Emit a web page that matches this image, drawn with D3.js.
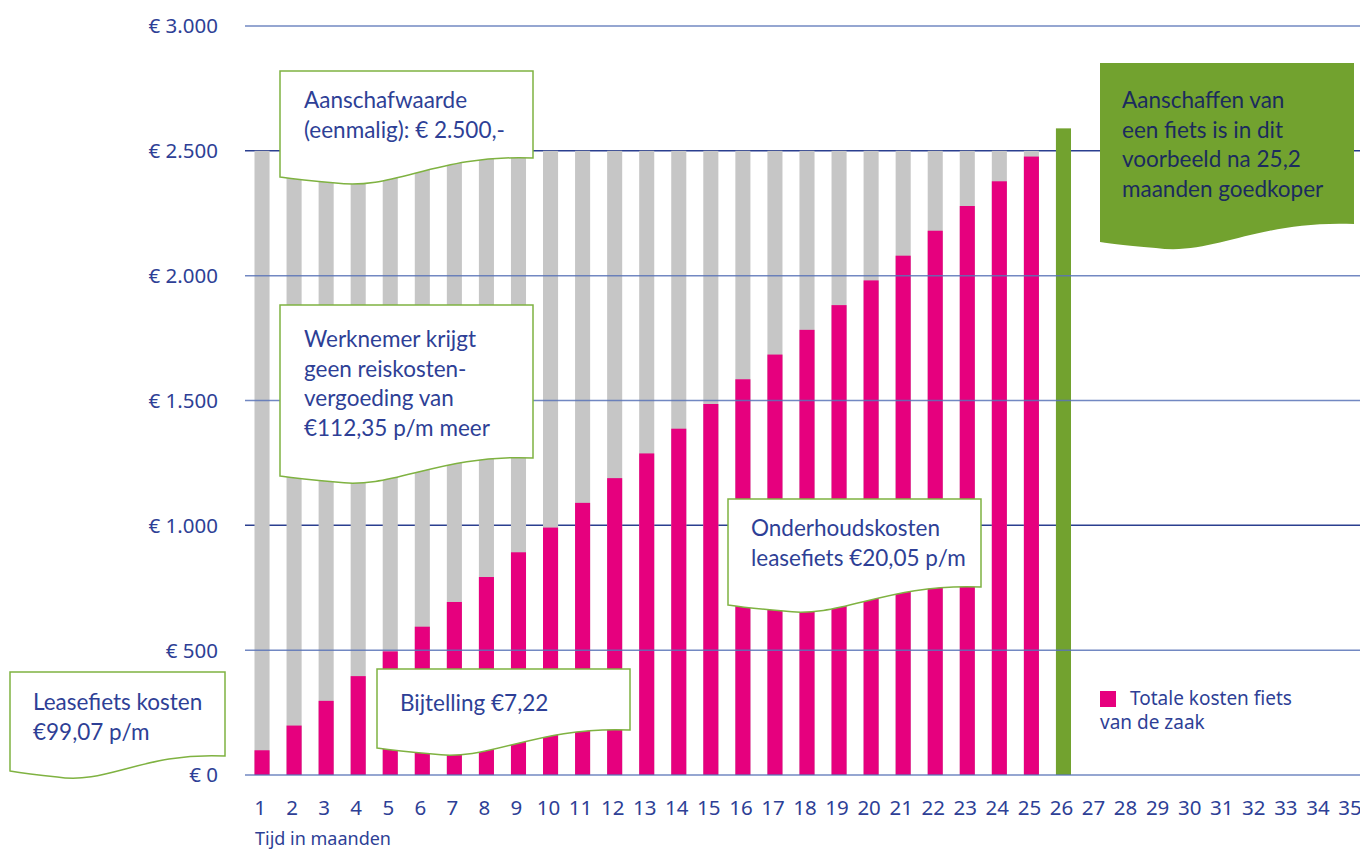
<!DOCTYPE html>
<html>
<head>
<meta charset="utf-8">
<script src="https://cdn.jsdelivr.net/npm/d3@7"></script>
<style>
  body { margin: 0; background: #fff; }
  svg { display: block; }
  .tick-label { font-family: "Noto Sans", sans-serif; fill: #2e3f96; }
  .note { font-family: Lato, "Open Sans", sans-serif; font-size: 22.5px; fill: #2e3f96; }
</style>
</head>
<body>
<svg id="chart" width="1360" height="849"></svg>
<script>
// data
const months = d3.range(1, 36).map(String);
const yTicks = [0, 500, 1000, 1500, 2000, 2500, 3000];
const yTickLabels = ["€ 0", "€ 500", "€ 1.000", "€ 1.500", "€ 2.000", "€ 2.500", "€ 3.000"];
// grijze achtergrondbalk (aanschafwaarde)
const purchaseValues = [2500, 2500, 2500, 2500, 2500, 2500, 2500, 2500, 2500, 2500,
  2500, 2500, 2500, 2500, 2500, 2500, 2500, 2500, 2500, 2500, 2500, 2500, 2500, 2500, 2500];
// totale kosten fiets van de zaak
const leaseValues = [99, 198, 297, 396, 495, 594, 693, 793, 892, 991, 1090, 1189, 1288,
  1387, 1486, 1585, 1684, 1783, 1882, 1981, 2080, 2180, 2279, 2378, 2477];
const breakEvenMonth = "26";
const breakEvenValue = 2590;

const svg = d3.select("#chart");

const x = d3.scaleBand().domain(months).range([246, 1368]).paddingInner(0.53).paddingOuter(0.265);
const y = d3.scaleLinear().domain([0, 3000]).range([775, 26]);

// rasterlijnen (donker) achter de balken
const darkLines = [1000, 2500];
svg.append("g").selectAll("line")
  .data(yTicks.filter(v => darkLines.includes(v)))
  .join("line")
  .attr("x1", 245).attr("x2", 1360)
  .attr("y1", d => y(d)).attr("y2", d => y(d))
  .attr("stroke", "#2b3f8f").attr("stroke-width", 1.5);

// grijze balken
svg.append("g").selectAll("rect")
  .data(purchaseValues)
  .join("rect")
  .attr("x", (d, i) => x(months[i]))
  .attr("width", x.bandwidth())
  .attr("y", d => y(d))
  .attr("height", d => y(0) - y(d))
  .attr("fill", "#c6c6c6");

// roze balken
svg.append("g").selectAll("rect")
  .data(leaseValues)
  .join("rect")
  .attr("x", (d, i) => x(months[i]))
  .attr("width", x.bandwidth())
  .attr("y", d => y(d))
  .attr("height", d => y(0) - y(d))
  .attr("fill", "#e6007e");

// groene balk
svg.append("rect")
  .attr("x", x(breakEvenMonth))
  .attr("width", x.bandwidth())
  .attr("y", y(breakEvenValue))
  .attr("height", y(0) - y(breakEvenValue))
  .attr("fill", "#72a22f");

// lichte rasterlijnen over de balken
svg.append("g").selectAll("line")
  .data(yTicks.filter(v => !darkLines.includes(v)))
  .join("line")
  .attr("x1", 245).attr("x2", 1360)
  .attr("y1", d => y(d)).attr("y2", d => y(d))
  .attr("stroke", "#5a74b8").attr("stroke-width", 1.5).attr("opacity", 0.85);

// y-as labels
svg.append("g").selectAll("text")
  .data(yTicks)
  .join("text")
  .attr("class", "tick-label")
  .attr("x", 218)
  .attr("y", d => y(d))
  .attr("dy", "0.36em")
  .attr("text-anchor", "end")
  .attr("font-size", 20.5)
  .text((d, i) => yTickLabels[i]);

// x-as labels
svg.append("g").selectAll("text")
  .data(months)
  .join("text")
  .attr("class", "tick-label")
  .attr("x", d => x(d) + x.bandwidth() / 2 - 2)
  .attr("y", 815)
  .attr("text-anchor", "middle")
  .attr("font-size", 20.5)
  .text(d => d);

svg.append("text")
  .attr("class", "tick-label")
  .attr("x", 255).attr("y", 845)
  .attr("font-size", 18)
  .text("Tijd in maanden");

// tekstballonnen met golvende onderkant
function wavyBox(b) {
  const w = b.x1 - b.x0;
  const p = d3.path();
  p.moveTo(b.x0, b.top);
  p.lineTo(b.x1, b.top);
  p.lineTo(b.x1, b.yR);
  p.bezierCurveTo(b.x0 + w * 0.62, b.yR - 4, b.x0 + w * 0.45, b.yL + 14, b.x0 + w * 0.22, b.yL + 6);
  p.bezierCurveTo(b.x0 + w * 0.12, b.yL + 4, b.x0 + w * 0.05, b.yL + 2, b.x0, b.yL);
  p.closePath();
  return p.toString();
}

const boxes = [
  { x0: 280, x1: 533, top: 71, yR: 158, yL: 177, tx: 304, ty: 108, lines: ["Aanschafwaarde", "(eenmalig): € 2.500,-"] },
  { x0: 280, x1: 533, top: 305, yR: 458, yL: 476, tx: 304, ty: 347, lines: ["Werknemer krijgt", "geen reiskosten-", "vergoeding van", "€112,35 p/m meer"] },
  { x0: 10, x1: 225, top: 672, yR: 756, yL: 771, tx: 33, ty: 710, lines: ["Leasefiets kosten", "€99,07 p/m"] },
  { x0: 377, x1: 630, top: 669, yR: 730, yL: 748, tx: 400, ty: 711, lines: ["Bijtelling €7,22"] },
  { x0: 728, x1: 981, top: 499, yR: 587, yL: 605, tx: 751, ty: 536, lines: ["Onderhoudskosten", "leasefiets €20,05 p/m"] },
  { x0: 1100, x1: 1354, top: 63, yR: 224, yL: 242, tx: 1122, ty: 108, green: true,
    lines: ["Aanschaffen van", "een fiets is in dit", "voorbeeld na 25,2", "maanden goedkoper"] }
];

const boxG = svg.append("g").selectAll("g")
  .data(boxes)
  .join("g");

boxG.append("path")
  .attr("d", d => wavyBox(d))
  .attr("fill", d => d.green ? "#72a22f" : "#fff")
  .attr("stroke", d => d.green ? "none" : "#7fb241")
  .attr("stroke-width", 1.5);

boxG.each(function (d) {
  const t = d3.select(this).append("text")
    .attr("class", "note")
    .attr("x", d.tx)
    .attr("y", d.ty)
    .style("fill", d.green ? "#1b2b5e" : null);
  d.lines.forEach((line, i) => {
    t.append("tspan")
      .attr("x", d.tx)
      .attr("y", d.ty + i * 29.5)
      .text(line);
  });
});

// legenda
svg.append("rect")
  .attr("x", 1100).attr("y", 691)
  .attr("width", 16).attr("height", 16)
  .attr("fill", "#e6007e");
svg.append("text")
  .attr("class", "tick-label")
  .attr("x", 1130).attr("y", 705)
  .attr("font-size", 19)
  .text("Totale kosten fiets");
svg.append("text")
  .attr("class", "tick-label")
  .attr("x", 1100).attr("y", 729)
  .attr("font-size", 19)
  .text("van de zaak");
</script>
</body>
</html>
